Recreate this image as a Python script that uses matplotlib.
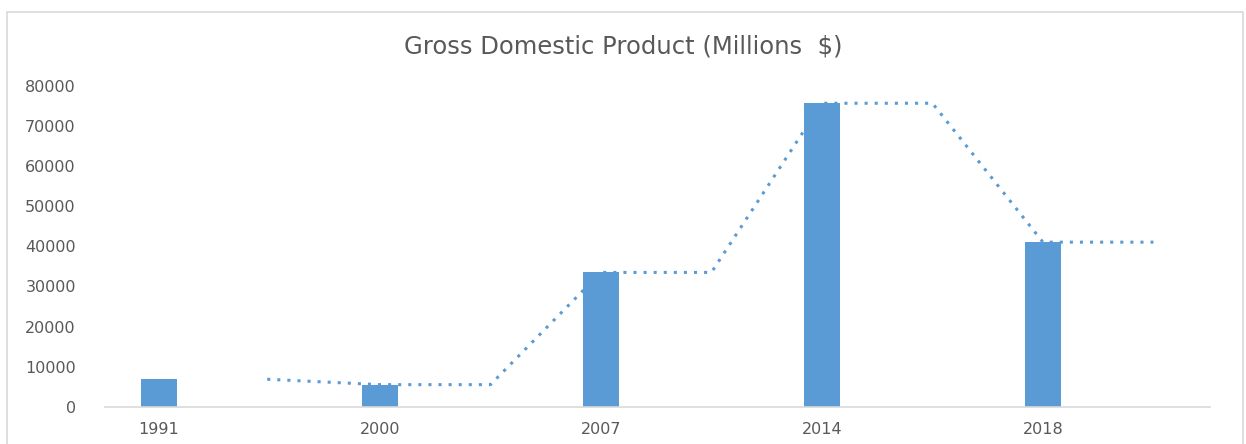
import matplotlib
matplotlib.use("Agg")
from matplotlib import pyplot as plt
from matplotlib.patches import Rectangle

years = ["1991", "2000", "2007", "2014", "2018"]
gdp = [6850, 5500, 33500, 75700, 41050]
yticks = [0, 10000, 20000, 30000, 40000, 50000, 60000, 70000, 80000]

blue = "#5B9BD5"
grey = "#595959"

fig = plt.figure(figsize=(12.46, 4.44), dpi=100)
# light border around the chart area (bottom edge falls outside the image)
fig.patches.append(Rectangle((7 / 1246, -0.1), (1243 - 7) / 1246, 1.1 - 12 / 444,
                             transform=fig.transFigure, fill=False,
                             edgecolor="#D9D9D9", linewidth=1.2))

ax = fig.add_axes([105 / 1246, (444 - 406.7) / 444, 1105 / 1246, 320.7 / 444])

pos = list(range(len(years)))
ax.bar(pos, gdp, width=0.163, color=blue, zorder=2)

# moving-average style dotted trend: each value held half a category
lx, ly = [0.49], [gdp[0]]
for i in range(1, len(gdp)):
    lx += [i, i + 0.5]
    ly += [gdp[i], gdp[i]]
ax.plot(lx, ly, color=blue, linewidth=2.2, linestyle=(0, (1, 2.3)),
        dash_capstyle="butt", zorder=3)

ax.set_xlim(-0.244, 4.756)
ax.set_ylim(0, 80000)
ax.set_xticks(pos)
ax.set_xticklabels(years)
ax.set_yticks(yticks)
ax.set_yticklabels([str(t) for t in yticks])
ax.tick_params(length=0, colors=grey, labelsize=11.5)
ax.tick_params(axis="y", pad=21)
ax.tick_params(axis="x", pad=11)
for s in ["top", "right", "left"]:
    ax.spines[s].set_visible(False)
ax.spines["bottom"].set_color("#D9D9D9")
ax.spines["bottom"].set_linewidth(1.2)

fig.text(0.5, 1 - 46 / 444, "Gross Domestic Product (Millions  $)",
         ha="center", va="center", fontsize=17.5, color=grey)

fig.savefig("out.png", dpi=100)
